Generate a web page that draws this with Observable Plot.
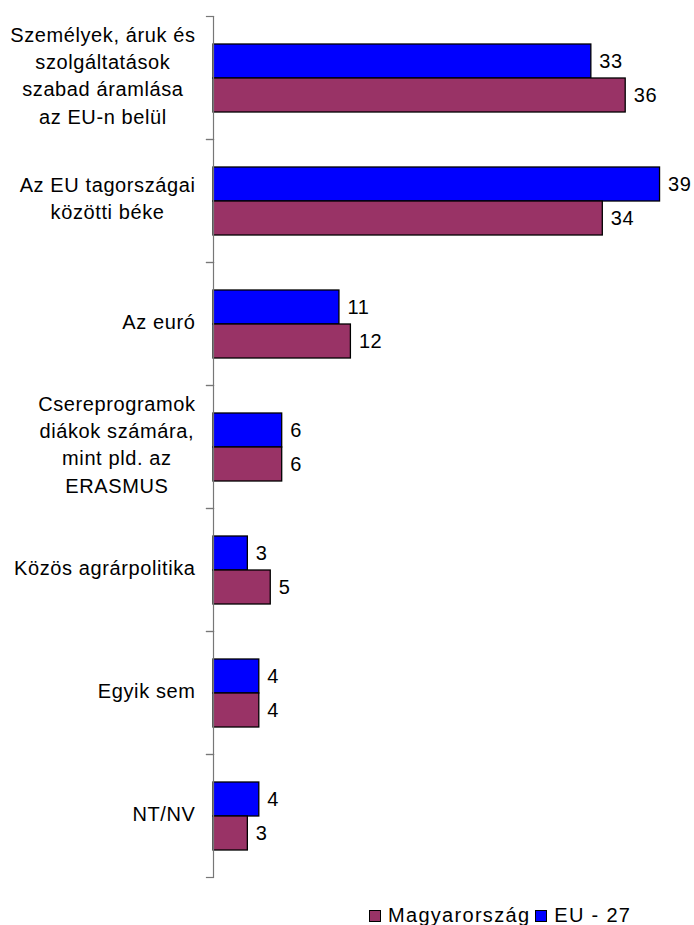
<!DOCTYPE html>
<html><head><meta charset="utf-8">
<script src="https://cdn.jsdelivr.net/npm/d3@7"></script>
<script src="https://cdn.jsdelivr.net/npm/@observablehq/plot@0.6"></script>
<style>
body{margin:0;background:#fff;font-family:"Liberation Sans",Arial,sans-serif;}
#wrap{position:relative;width:694px;height:925px;}
#wrap svg text{letter-spacing:0.6px;}
#legend{position:absolute;left:369px;top:904px;font-size:20px;letter-spacing:1.3px;color:#000;display:flex;align-items:center;white-space:nowrap;}
#legend .sw{display:inline-block;width:10px;height:10px;border:1px solid #000;margin-right:7px;}
#legend .item{display:flex;align-items:center;margin-right:5px;}
</style></head><body><div id="wrap"></div>
<script>
const categories = [
  "Személyek, áruk és\nszolgáltatások\nszabad áramlása\naz EU-n belül",
  "Az EU tagországai\nközötti béke",
  "Az euró",
  "Csereprogramok\ndiákok számára,\nmint pld. az\nERASMUS",
  "Közös agrárpolitika",
  "Egyik sem",
  "NT/NV"
];
const seriesNames = ["EU - 27", "Magyarország"];
const euValues = [33, 39, 11, 6, 3, 4, 4];
const huValues = [36, 34, 12, 6, 5, 4, 3];
const seriesColors = ["#0000FF", "#993366"];
const legendOrder = ["Magyarország", "EU - 27"];

const data = categories.flatMap((c, i) => [
  {cat: c, series: seriesNames[0], value: euValues[i]},
  {cat: c, series: seriesNames[1], value: huValues[i]}
]);

const fontSize = 20, ls = 0.6, fontFam = '"Liberation Sans", Arial, sans-serif';
const ctx = document.createElement("canvas").getContext("2d");
ctx.font = `${fontSize}px "Liberation Sans"`;
const tw = s => ctx.measureText(s).width + ls * s.length;

const W = 694, H = 893, mL = 213, mR = 23, mT = 15, mB = 16;
const innerW = W - mL - mR;

const labelMarks = categories.map(c => {
  const bw = Math.max(...c.split("\n").map(tw));
  return Plot.text([c], {
    fy: d => d, text: d => d, frameAnchor: "left", textAnchor: "middle",
    dx: -(18 + bw / 2), dy: -4, lineHeight: 1.36, fontSize, fill: "#000"
  });
});

const chart = Plot.plot({
  width: W, height: H,
  marginLeft: mL, marginRight: mR, marginTop: mT, marginBottom: mB,
  style: {fontFamily: fontFam, fontSize: "20px", background: "#fff", overflow: "visible"},
  fy: {domain: categories, paddingInner: 0, paddingOuter: 0, axis: null},
  y: {domain: seriesNames, paddingInner: 0, paddingOuter: 0.784, axis: null},
  x: {domain: [0, 40], axis: null},
  color: {domain: seriesNames, range: seriesColors},
  marks: [
    Plot.frame({anchor: "top", stroke: "#777", strokeWidth: 1.2, insetLeft: -7, insetRight: innerW}),
    Plot.frame({anchor: "bottom", stroke: "#777", strokeWidth: 1.2, insetLeft: -7, insetRight: innerW}),
    Plot.barX(data, {fy: "cat", y: "series", x: "value", fill: "series", stroke: "#000", strokeWidth: 1.3}),
    Plot.ruleX([0], {stroke: "#777", strokeWidth: 1.2}),
    Plot.text(data, {fy: "cat", y: "series", x: "value", text: d => String(d.value), textAnchor: "start", dx: 8, fontSize, fill: "#000"}),
    ...labelMarks
  ]
});
document.getElementById("wrap").appendChild(chart);

const legend = document.createElement("div");
legend.id = "legend";
legendOrder.forEach(name => {
  const item = document.createElement("span");
  item.className = "item";
  const sw = document.createElement("span");
  sw.className = "sw";
  sw.style.background = seriesColors[seriesNames.indexOf(name)];
  item.appendChild(sw);
  item.appendChild(document.createTextNode(name));
  legend.appendChild(item);
});
document.getElementById("wrap").appendChild(legend);
</script></body></html>
